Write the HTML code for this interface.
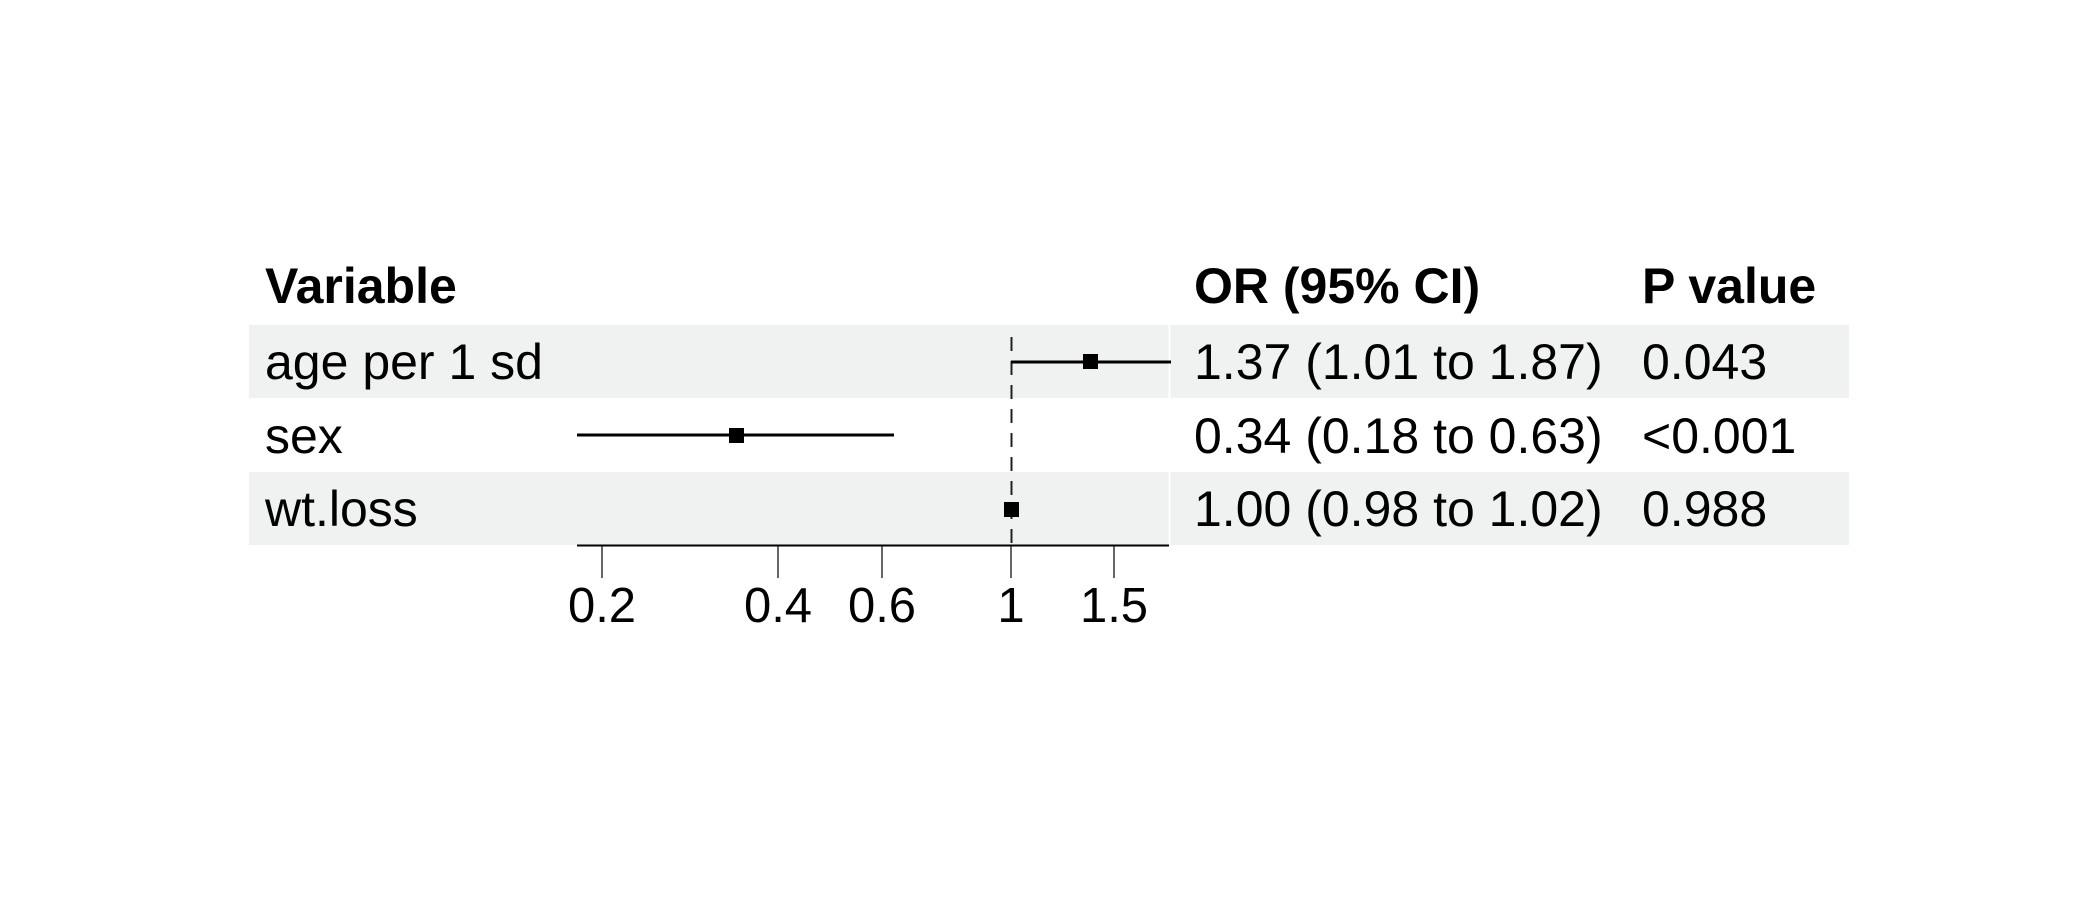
<!DOCTYPE html>
<html><head><style>
html,body{margin:0;padding:0;background:#fff;}
svg text{font-family:"Liberation Sans",sans-serif;}
</style></head><body>
<svg width="2100" height="900" xmlns="http://www.w3.org/2000/svg">
<rect x="0" y="0" width="2100" height="900" fill="#fff"/>
<rect x="249" y="325" width="1600" height="73" fill="#eff2f1"/>
<rect x="249" y="472" width="1600" height="73" fill="#eff2f1"/>
<line x1="1169.5" y1="325" x2="1169.5" y2="398" stroke="#fff" stroke-width="2"/>
<line x1="1169.5" y1="472" x2="1169.5" y2="545" stroke="#fff" stroke-width="2"/>
<g font-size="50">
<text x="265" y="303" font-weight="bold">Variable</text>
<text x="1194" y="303" font-weight="bold">OR (95% CI)</text>
<text x="1642" y="303" font-weight="bold">P value</text>
<text x="265" y="379">age per 1 sd</text>
<text x="265" y="453">sex</text>
<text x="265" y="526">wt.loss</text>
<text x="1194" y="379">1.37 (1.01 to 1.87)</text>
<text x="1194" y="453">0.34 (0.18 to 0.63)</text>
<text x="1194" y="526">1.00 (0.98 to 1.02)</text>
<text x="1642" y="379">0.043</text>
<text x="1642" y="453">&lt;0.001</text>
<text x="1642" y="526">0.988</text>
</g>
<line x1="1011.5" y1="337" x2="1011.5" y2="546" stroke="#222" stroke-width="2" stroke-dasharray="14,10"/>
<line x1="1011" y1="362" x2="1171" y2="362" stroke="#000" stroke-width="3"/>
<rect x="1083" y="354" width="15" height="15" fill="#000"/>
<line x1="577" y1="435" x2="894" y2="435" stroke="#000" stroke-width="3"/>
<rect x="729" y="428" width="15" height="15" fill="#000"/>
<rect x="1004" y="502" width="15" height="15" fill="#000"/>
<line x1="577" y1="545.5" x2="1169" y2="545.5" stroke="#000" stroke-width="2"/>
<g stroke="#000" stroke-width="1.2">
<line x1="602" y1="546" x2="602" y2="578"/>
<line x1="778" y1="546" x2="778" y2="578"/>
<line x1="882" y1="546" x2="882" y2="578"/>
<line x1="1011" y1="546" x2="1011" y2="578"/>
<line x1="1114" y1="546" x2="1114" y2="578"/>
</g>
<g font-size="49" text-anchor="middle">
<text x="602" y="622">0.2</text>
<text x="778" y="622">0.4</text>
<text x="882" y="622">0.6</text>
<text x="1011" y="622">1</text>
<text x="1114" y="622">1.5</text>
</g>
</svg>
</body></html>
